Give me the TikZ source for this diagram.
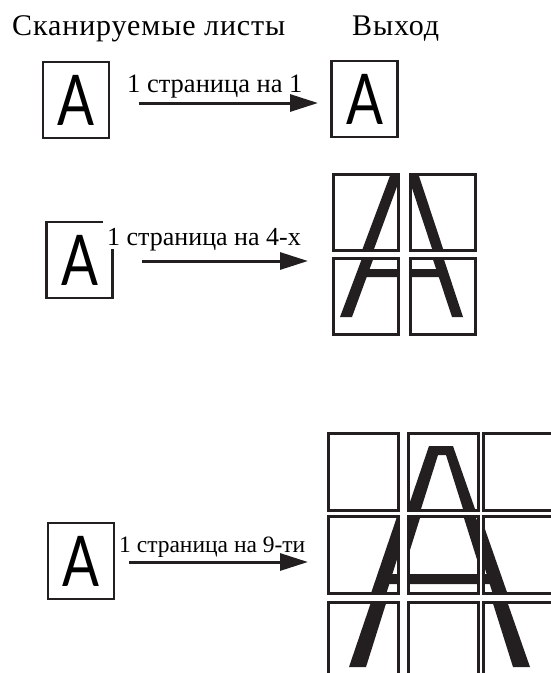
\documentclass[tikz,border=0pt]{standalone}
\usepackage{fontspec}
\setmainfont{Liberation Serif}
\newfontfamily\headfont{Liberation Serif}[LetterSpace=3]
\newfontfamily\letterfont{Lato}
\usetikzlibrary{positioning,arrows.meta}
\definecolor{ink}{HTML}{231F20}

% the letter on a sheet
\newcommand{\letterA}{{\letterfont\fontsize{70}{70}\selectfont\scalebox{0.78}[1]{A}}}
% the same letter, enlarged over 2x2 and 3x3 sheets
\newcommand{\Afour}{(8,136) -- (59,0) -- (74,0) -- (119,136) -- (108,136) -- (94.8,96)
  -- (34.7,96) -- (20,136) -- cycle (66.3,10) -- (92.1,88) -- (37.6,88) -- cycle}
\newcommand{\Anine}{(22,220) -- (92,14) -- (116,14) -- (188,220) -- (171,220) -- (147.7,146)
  -- (62.3,146) -- (39,220) -- cycle (101,23) -- (109,23) -- (144.6,136) -- (65.4,136) -- cycle}

\begin{document}
\begin{tikzpicture}[x=1pt, y=-1pt,
    sheet/.style={draw=ink, line width=2.6pt, minimum width=66pt, minimum height=76pt, inner sep=0pt},
    tile/.style={draw=ink, line width=2.9pt, anchor=north west, inner sep=0pt},
    head/.style={font=\headfont\fontsize{30}{30}\selectfont, anchor=base west, inner sep=0pt},
    lab/.style={anchor=base west, inner sep=0pt},
    arr/.style={draw=ink, line width=3pt, -{Triangle[length=28pt, width=17pt]}}]
  \useasboundingbox (0,0) rectangle (550,673);

  \node[head] (src) at (12,35) {Сканируемые листы};
  \node[head] (dst) at (352,35) {Выход};

  % 1 -> 1
  \node[sheet] (in1) at (76,100) {\letterA};
  \node[sheet] (out1) at (364.5,99) {\letterA};
  \node[lab, font=\fontsize{26.5}{26.5}\selectfont] (l1) at (127,92) {1 страница на 1};
  \coordinate (tip1) at (318,103);
  \draw[arr] ([xshift=29pt]in1.east |- tip1) -- (tip1);

  % 1 -> 4
  \node[sheet] (in2) at (79.5,260) {\letterA};
  \node[lab, font=\fontsize{26}{26}\selectfont, fill=white, inner xsep=4pt, inner ysep=2pt,
    text height=22pt, text depth=2pt] (l2) at (103,245) {1 страница на 4-х};
  \coordinate (tip2) at (308,261);
  \draw[arr] ([xshift=28pt]in2.east |- tip2) -- (tip2);
  \foreach \i/\y in {0/173,1/257}
    \foreach \j/\x in {0/332,1/409} {
      \begin{scope}
        \clip (\x,\y) rectangle ++(65,76);
        \fill[ink, even odd rule, shift={({\x-65*\j},{\y-76*\i})}] \Afour;
      \end{scope}
      \node[tile, minimum width=65pt, minimum height=76pt] (q-\i-\j) at (\x,\y) {};
    }

  % 1 -> 9
  \node[sheet] (in3) at (81,561) {\letterA};
  \node[lab, font=\fontsize{23.5}{23.5}\selectfont] (l3) at (119,552) {1 страница на 9-ти};
  \coordinate (tip3) at (308,562);
  \draw[arr] ([xshift=14pt]in3.east |- tip3) -- (tip3);
  \foreach \i/\y in {0/432,1/515,2/601}
    \foreach \j/\x in {0/327,1/407,2/482} {
      \begin{scope}
        \clip (\x,\y) rectangle ++(70,77);
        \fill[ink, even odd rule, shift={({\x-70*\j},{\y-77*\i})}] \Anine;
      \end{scope}
      \node[tile, minimum width=70pt, minimum height=77pt] (n-\i-\j) at (\x,\y) {};
    }
\end{tikzpicture}
\end{document}
